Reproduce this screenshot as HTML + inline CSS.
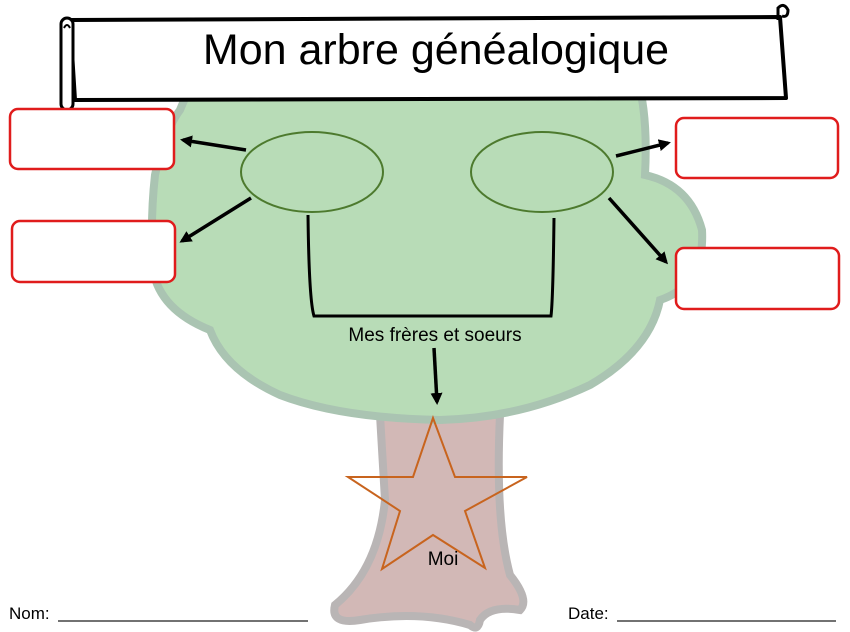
<!DOCTYPE html>
<html><head><meta charset="utf-8"><style>
html,body{margin:0;padding:0;background:#fff;width:850px;height:632px;overflow:hidden}
text{font-family:"Liberation Sans",sans-serif}
</style></head><body>
<svg width="850" height="632" viewBox="0 0 850 632" xmlns="http://www.w3.org/2000/svg">
<defs>
<marker id="ah" markerWidth="12" markerHeight="12" refX="9" refY="6" orient="auto" markerUnits="userSpaceOnUse">
<path d="M0,0 L12,6 L0,12 Z" fill="#000"/></marker>
</defs>
<path d="M380,415 L385,500 Q378,570 335,605 Q330,625 360,620 Q420,610 470,625 Q478,632 480,620 Q490,605 520,610 Q530,600 510,575 Q495,520 500,415 Z" fill="#d2b8b6" stroke="#b9b5b5" stroke-width="8"/>
<path d="M235,40 Q300,20 420,22 Q560,20 620,45 Q650,80 645,175 Q690,185 702,230 Q705,285 660,300 Q650,350 590,385 Q520,418 440,420 Q340,418 280,395 Q225,370 210,330 Q160,310 153,270 Q150,220 155,175 Q165,130 180,110 Q200,60 235,40 Z" fill="#b8dcb7" stroke="#aac4b2" stroke-width="8"/>
<path d="M70,20 L780,17 L786,98 L75,100 Z" fill="#fff" stroke="#000" stroke-width="4" stroke-linejoin="round"/>
<rect x="61" y="18" width="12" height="92" rx="6" fill="#fff" stroke="#000" stroke-width="3"/>
<path d="M64,28 q3,-6 6,0" fill="none" stroke="#000" stroke-width="2"/>
<path d="M778,20 L778,8 q6,-6 10,2 q0,8 -6,6" fill="none" stroke="#000" stroke-width="3"/>
<text x="436" y="64" font-size="43" text-anchor="middle">Mon arbre généalogique</text>
<g fill="#fff" stroke="#e01c1c" stroke-width="2.5">
<rect x="10" y="109" width="164" height="60" rx="8"/>
<rect x="12" y="221" width="163" height="61" rx="8"/>
<rect x="676" y="118" width="162" height="60" rx="8"/>
<rect x="676" y="248" width="163" height="61" rx="8"/>
</g>
<ellipse cx="312" cy="172" rx="71" ry="40" fill="none" stroke="#4d7a2e" stroke-width="2"/>
<ellipse cx="542" cy="172" rx="71" ry="40" fill="none" stroke="#4d7a2e" stroke-width="2"/>
<g stroke="#000" stroke-width="3.5" marker-end="url(#ah)" fill="none">
<line x1="246" y1="150" x2="183" y2="140"/>
<line x1="251" y1="198" x2="182" y2="241"/>
<line x1="616" y1="156" x2="668" y2="143"/>
<line x1="609" y1="198" x2="666" y2="262"/>
<line x1="434" y1="348" x2="437" y2="402"/>
</g>
<path d="M308,215 Q309,300 314,316 L551,316 Q553,300 554,218" fill="none" stroke="#000" stroke-width="3"/>
<text x="435" y="341" font-size="19" text-anchor="middle">Mes frères et soeurs</text>
<polygon points="433,418 413,477 348,477 400,511 382,569 433,535 485,568 465,511 527,477 455,477" fill="none" stroke="#c8641e" stroke-width="2"/>
<text x="443" y="565" font-size="19" text-anchor="middle">Moi</text>
<text x="9" y="619" font-size="17">Nom:</text>
<line x1="58" y1="621" x2="308" y2="621" stroke="#444" stroke-width="1.5"/>
<text x="568" y="619" font-size="17">Date:</text>
<line x1="617" y1="621" x2="836" y2="621" stroke="#444" stroke-width="1.5"/>
</svg>
</body></html>
